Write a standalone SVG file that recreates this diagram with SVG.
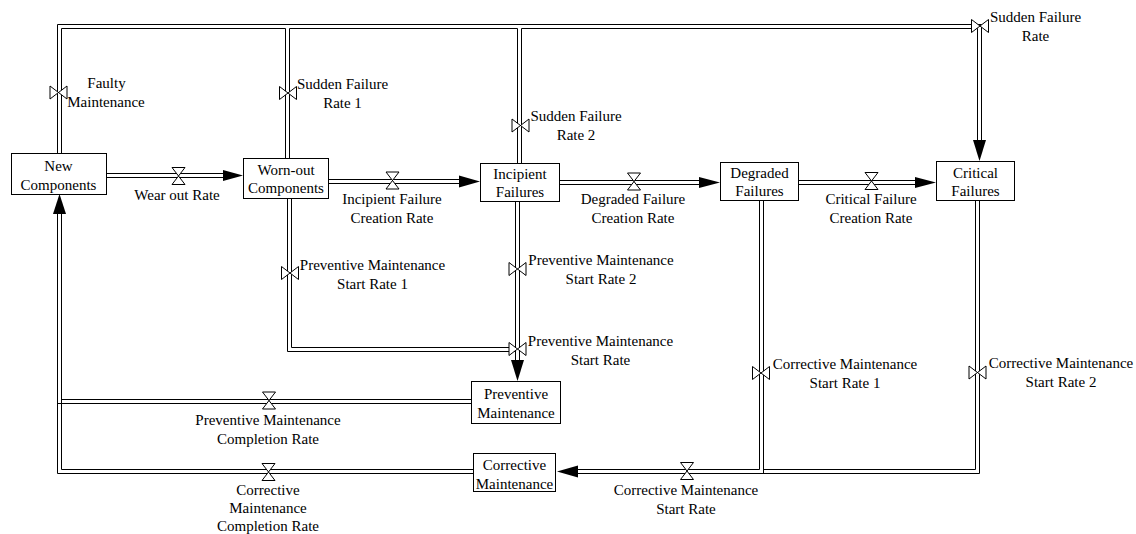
<svg xmlns="http://www.w3.org/2000/svg" width="1136" height="534" viewBox="0 0 1136 534">
<style>
  .pipe { fill: none; stroke: #000; stroke-width: 1; }
  .box { fill: #fff; stroke: #000; stroke-width: 1; }
  .valve { fill: #fff; stroke: #000; stroke-width: 1; }
  .arrow { fill: #000; stroke: none; }
  .t { font-family: 'Liberation Serif', 'DejaVu Serif', serif; font-size: 15px; fill: #000; text-anchor: middle; }
</style>
<defs>
  <path id="vh" class="valve" d="M-6.5,-8.5 H6.5 L-6.5,8.5 H6.5 Z"/>
  <path id="vv" class="valve" d="M-8.5,-6.5 V6.5 L8.5,-6.5 V6.5 Z"/>
</defs>
<rect width="1136" height="534" fill="#fff"/>

<g id="connectors">
  <path class="pipe" d="M57.5,153 V24.5 H981.5 V141"/>
  <path class="pipe" d="M61.5,153 V28.5 H285.5"/>
  <path class="pipe" d="M289.5,28.5 H517.5"/>
  <path class="pipe" d="M521.5,28.5 H977.5 V141"/>
  <path class="pipe" d="M285.5,28.5 V158 M289.5,28.5 V158"/>
  <path class="pipe" d="M517.5,28.5 V163 M521.5,28.5 V163"/>
  <polygon class="arrow" points="973,140 986,140 979.5,161"/>

  <path class="pipe" d="M106,173.5 H224 M106,177.5 H224"/>
  <polygon class="arrow" points="223,170 223,181 243,175.5"/>
  <path class="pipe" d="M329,179.5 H460 M329,183.5 H460"/>
  <polygon class="arrow" points="459,175.5 459,187.5 480,181.5"/>
  <path class="pipe" d="M560,180.5 H700 M560,184.5 H700"/>
  <polygon class="arrow" points="699,177 699,188 720,182.5"/>
  <path class="pipe" d="M799,180.5 H916 M799,184.5 H916"/>
  <polygon class="arrow" points="915,177 915,188 936,182.5"/>

  <path class="pipe" d="M287.5,199 V351.5 H515.5 M291.5,199 V347.5 H515.5"/>
  <path class="pipe" d="M515.5,202 V361 M519.5,202 V361"/>
  <polygon class="arrow" points="511,360 524,360 517.5,381"/>

  <path class="pipe" d="M61.5,399.5 H471 M57.5,403.5 H471"/>
  <path class="pipe" d="M57.5,213 V473.5 H473 M61.5,213 V469.5 H473"/>
  <polygon class="arrow" points="53,214 66,214 59.5,194"/>

  <path class="pipe" d="M979.5,201 V473.5 H577"/>
  <path class="pipe" d="M975.5,201 V469.5 H763.5"/>
  <path class="pipe" d="M759.5,201 V469.5 H577 M763.5,201 V473.5"/>
  <polygon class="arrow" points="578,465.5 578,477.5 557,471.5"/>

  <use href="#vv" x="58.5" y="92.5"/>
  <use href="#vv" x="288" y="93"/>
  <use href="#vv" x="520.5" y="125.5"/>
  <use href="#vv" x="980" y="26"/>
  <use href="#vh" x="178.5" y="176"/>
  <use href="#vh" x="392.5" y="180.5"/>
  <use href="#vh" x="634" y="181.5"/>
  <use href="#vh" x="871.5" y="181"/>
  <use href="#vv" x="290" y="273"/>
  <use href="#vv" x="517.5" y="269"/>
  <use href="#vv" x="517.5" y="349"/>
  <use href="#vh" x="269" y="400.5"/>
  <use href="#vh" x="268.5" y="472"/>
  <use href="#vh" x="687" y="471"/>
  <use href="#vv" x="761" y="373"/>
  <use href="#vv" x="977.5" y="372.5"/>

  <g class="t" font-family="'Liberation Serif', 'DejaVu Serif', serif">
  <text x="106.5" y="88">Faulty</text>
  <text x="106" y="107">Maintenance</text>
  <text x="177" y="200">Wear out Rate</text>
  <text x="342.5" y="89">Sudden Failure</text>
  <text x="342.5" y="108">Rate 1</text>
  <text x="392" y="204">Incipient Failure</text>
  <text x="392" y="223">Creation Rate</text>
  <text x="576" y="121">Sudden Failure</text>
  <text x="576" y="140">Rate 2</text>
  <text x="633" y="204">Degraded Failure</text>
  <text x="633" y="223">Creation Rate</text>
  <text x="871" y="204">Critical Failure</text>
  <text x="871" y="223">Creation Rate</text>
  <text x="1035.5" y="22">Sudden Failure</text>
  <text x="1035.5" y="41">Rate</text>
  <text x="372.5" y="270">Preventive Maintenance</text>
  <text x="372.5" y="288.5">Start Rate 1</text>
  <text x="601" y="265">Preventive Maintenance</text>
  <text x="601" y="284">Start Rate 2</text>
  <text x="600.5" y="346">Preventive Maintenance</text>
  <text x="600.5" y="364.5">Start Rate</text>
  <text x="268" y="425">Preventive Maintenance</text>
  <text x="268" y="443.5">Completion Rate</text>
  <text x="268" y="495">Corrective</text>
  <text x="268" y="513">Maintenance</text>
  <text x="268" y="530.5">Completion Rate</text>
  <text x="686" y="494.5">Corrective Maintenance</text>
  <text x="686" y="513.5">Start Rate</text>
  <text x="845" y="369">Corrective Maintenance</text>
  <text x="845" y="388">Start Rate 1</text>
  <text x="1061" y="368">Corrective Maintenance</text>
  <text x="1061" y="387">Start Rate 2</text>
  </g>
</g>

<g id="new-components">
  <rect class="box" x="11.5" y="153.5" width="95" height="41"/>
  <g class="t" font-family="'Liberation Serif', 'DejaVu Serif', serif">
  <text x="58.5" y="171">New</text>
  <text x="58.5" y="189.5">Components</text>
  </g>
</g>
<g id="worn-out-components">
  <rect class="box" x="243.5" y="158.5" width="85" height="40"/>
  <g class="t" font-family="'Liberation Serif', 'DejaVu Serif', serif">
  <text x="286" y="174.5">Worn-out</text>
  <text x="286" y="193">Components</text>
  </g>
</g>
<g id="incipient-failures">
  <rect class="box" x="480.5" y="163.5" width="79" height="38"/>
  <g class="t" font-family="'Liberation Serif', 'DejaVu Serif', serif">
  <text x="520" y="178.5">Incipient</text>
  <text x="520" y="197">Failures</text>
  </g>
</g>
<g id="degraded-failures">
  <rect class="box" x="720.5" y="162.5" width="78" height="38"/>
  <g class="t" font-family="'Liberation Serif', 'DejaVu Serif', serif">
  <text x="759.5" y="177.5">Degraded</text>
  <text x="759.5" y="196">Failures</text>
  </g>
</g>
<g id="critical-failures">
  <rect class="box" x="936.5" y="161.5" width="78" height="39"/>
  <g class="t" font-family="'Liberation Serif', 'DejaVu Serif', serif">
  <text x="975.5" y="177.5">Critical</text>
  <text x="975.5" y="196">Failures</text>
  </g>
</g>
<g id="preventive-maintenance">
  <rect class="box" x="471.5" y="381.5" width="89" height="42"/>
  <g class="t" font-family="'Liberation Serif', 'DejaVu Serif', serif">
  <text x="516" y="399">Preventive</text>
  <text x="516" y="418">Maintenance</text>
  </g>
</g>
<g id="corrective-maintenance">
  <rect class="box" x="473.5" y="453.5" width="82" height="38"/>
  <g class="t" font-family="'Liberation Serif', 'DejaVu Serif', serif">
  <text x="514.5" y="469.5">Corrective</text>
  <text x="514.5" y="488.5">Maintenance</text>
  </g>
</g>
</svg>
